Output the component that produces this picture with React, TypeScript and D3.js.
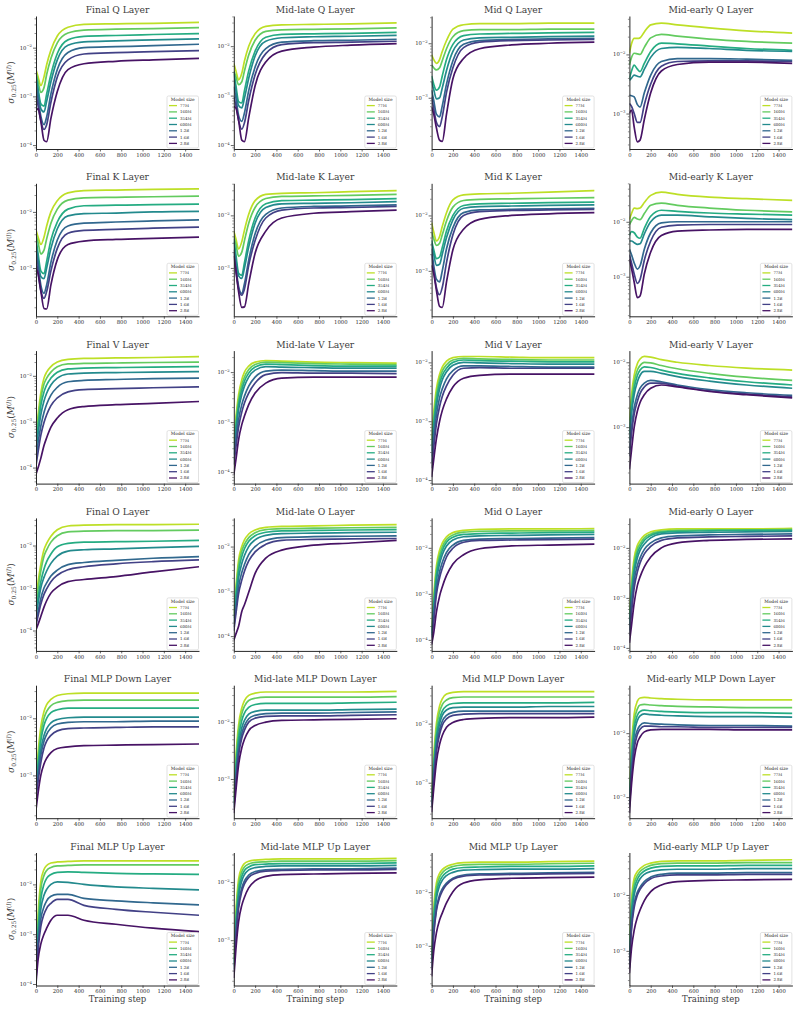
import React, { useEffect, useRef } from "react";
import * as d3 from "d3";

const steps = [0, 20, 45, 75, 100, 140, 200, 300, 450, 750, 1100, 1530];
const modelSizes = ["77M", "160M", "354M", "600M", "1.2B", "1.6B", "2.8B"];
const xTicks = [0, 200, 400, 600, 800, 1000, 1200, 1400];

// log10 of sigma_0.25(M) — one row per model size (same order as modelSizes)
const finalQ = [
  [-2.45, -2.6, -2.78, -2.6, -2.35, -2.05, -1.76, -1.58, -1.52, -1.51, -1.5, -1.48],
  [-2.5, -2.7, -2.92, -2.82, -2.55, -2.22, -1.9, -1.7, -1.64, -1.62, -1.61, -1.59],
  [-2.55, -2.85, -3.15, -3.2, -2.95, -2.55, -2.12, -1.84, -1.77, -1.75, -1.73, -1.71],
  [-2.6, -2.9, -3.25, -3.32, -3.1, -2.7, -2.25, -1.95, -1.88, -1.86, -1.84, -1.82],
  [-2.75, -3.05, -3.4, -3.58, -3.42, -2.95, -2.45, -2.1, -2.0, -1.98, -1.96, -1.93],
  [-2.95, -3.2, -3.5, -3.68, -3.58, -3.12, -2.6, -2.25, -2.13, -2.1, -2.08, -2.06],
  [-3.3, -3.25, -3.5, -3.9, -3.93, -3.45, -2.9, -2.45, -2.33, -2.28, -2.25, -2.22],
];
const midLateQ = [
  [-2.35, -2.5, -2.68, -2.55, -2.3, -2.0, -1.75, -1.6, -1.57, -1.56, -1.55, -1.53],
  [-2.5, -2.62, -2.78, -2.72, -2.5, -2.18, -1.88, -1.7, -1.67, -1.66, -1.65, -1.63],
  [-2.52, -2.8, -3.12, -3.15, -2.9, -2.5, -2.1, -1.82, -1.76, -1.75, -1.74, -1.72],
  [-2.55, -2.9, -3.2, -3.25, -3.05, -2.65, -2.2, -1.9, -1.83, -1.81, -1.8, -1.78],
  [-2.82, -3.05, -3.4, -3.52, -3.35, -2.9, -2.42, -2.05, -1.92, -1.89, -1.88, -1.86],
  [-3.02, -3.2, -3.5, -3.68, -3.55, -3.1, -2.58, -2.15, -1.97, -1.93, -1.92, -1.9],
  [-3.22, -3.25, -3.5, -3.9, -3.93, -3.45, -2.8, -2.32, -2.1, -2.02, -1.98, -1.95],
];
const midQ = [
  [-2.21, -2.3, -2.37, -2.3, -2.15, -1.95, -1.74, -1.66, -1.64, -1.64, -1.63, -1.63],
  [-2.4, -2.45, -2.49, -2.45, -2.32, -2.1, -1.88, -1.77, -1.75, -1.75, -1.74, -1.74],
  [-2.6, -2.75, -2.86, -2.8, -2.6, -2.3, -2.02, -1.86, -1.83, -1.82, -1.81, -1.8],
  [-2.7, -2.85, -3.02, -3.0, -2.82, -2.5, -2.15, -1.94, -1.9, -1.89, -1.88, -1.87],
  [-2.86, -3.05, -3.3, -3.35, -3.15, -2.75, -2.32, -2.02, -1.95, -1.93, -1.92, -1.91],
  [-2.98, -3.2, -3.45, -3.53, -3.35, -2.9, -2.45, -2.08, -1.98, -1.95, -1.94, -1.93],
  [-3.17, -3.3, -3.55, -3.78, -3.8, -3.3, -2.65, -2.28, -2.1, -2.03, -2.0, -1.98],
];
const midEarlyQ = [
  [-1.98, -1.82, -1.73, -1.73, -1.72, -1.62, -1.5, -1.47, -1.5, -1.55, -1.6, -1.64],
  [-2.18, -2.05, -1.98, -1.99, -2.0, -1.88, -1.72, -1.66, -1.69, -1.74, -1.78, -1.81],
  [-2.41, -2.28, -2.18, -2.25, -2.29, -2.15, -1.95, -1.81, -1.82, -1.86, -1.9, -1.93],
  [-2.44, -2.4, -2.35, -2.37, -2.38, -2.25, -2.05, -1.9, -1.88, -1.9, -1.93, -1.95],
  [-2.69, -2.7, -2.72, -2.85, -2.89, -2.65, -2.35, -2.12, -2.07, -2.07, -2.08, -2.1],
  [-2.83, -2.88, -3.0, -3.15, -3.15, -2.85, -2.5, -2.2, -2.12, -2.11, -2.11, -2.12],
  [-3.0, -2.94, -3.23, -3.48, -3.45, -3.1, -2.65, -2.28, -2.17, -2.13, -2.13, -2.15],
];
const finalK = [
  [-2.32, -2.45, -2.58, -2.45, -2.25, -2.0, -1.8, -1.66, -1.62, -1.61, -1.6, -1.59],
  [-2.4, -2.55, -2.75, -2.68, -2.48, -2.2, -1.95, -1.79, -1.75, -1.74, -1.73, -1.72],
  [-2.48, -2.75, -3.05, -3.1, -2.88, -2.5, -2.18, -1.95, -1.89, -1.88, -1.87, -1.86],
  [-2.56, -2.85, -3.15, -3.19, -3.0, -2.65, -2.3, -2.07, -2.03, -2.02, -2.0, -1.99],
  [-2.67, -2.95, -3.3, -3.45, -3.3, -2.9, -2.5, -2.25, -2.2, -2.18, -2.16, -2.14],
  [-2.84, -3.1, -3.4, -3.54, -3.42, -3.05, -2.65, -2.38, -2.33, -2.31, -2.29, -2.27],
  [-3.02, -3.1, -3.4, -3.72, -3.73, -3.3, -2.85, -2.58, -2.52, -2.49, -2.47, -2.45],
];
const midLateK = [
  [-2.3, -2.45, -2.64, -2.5, -2.28, -1.98, -1.72, -1.6, -1.58, -1.57, -1.55, -1.53],
  [-2.4, -2.55, -2.78, -2.7, -2.48, -2.15, -1.85, -1.68, -1.64, -1.63, -1.62, -1.6],
  [-2.45, -2.75, -3.1, -3.14, -2.9, -2.48, -2.05, -1.78, -1.72, -1.71, -1.7, -1.68],
  [-2.5, -2.85, -3.15, -3.2, -3.0, -2.6, -2.15, -1.85, -1.78, -1.77, -1.76, -1.74],
  [-2.65, -3.0, -3.35, -3.49, -3.3, -2.85, -2.35, -1.98, -1.86, -1.83, -1.82, -1.8],
  [-2.7, -3.05, -3.4, -3.52, -3.4, -2.95, -2.48, -2.05, -1.9, -1.86, -1.85, -1.83],
  [-2.77, -3.05, -3.45, -3.75, -3.74, -3.3, -2.72, -2.3, -2.05, -1.96, -1.93, -1.9],
];
const midK = [
  [-2.13, -2.3, -2.46, -2.38, -2.2, -1.95, -1.72, -1.63, -1.61, -1.6, -1.58, -1.55],
  [-2.3, -2.42, -2.54, -2.5, -2.35, -2.1, -1.85, -1.73, -1.71, -1.7, -1.69, -1.68],
  [-2.45, -2.62, -2.78, -2.75, -2.58, -2.28, -2.0, -1.82, -1.79, -1.78, -1.77, -1.76],
  [-2.5, -2.7, -2.9, -2.88, -2.7, -2.4, -2.08, -1.87, -1.84, -1.83, -1.82, -1.81],
  [-2.6, -2.9, -3.15, -3.2, -3.0, -2.6, -2.22, -1.95, -1.9, -1.89, -1.88, -1.87],
  [-2.7, -3.0, -3.3, -3.43, -3.3, -2.85, -2.35, -2.0, -1.93, -1.91, -1.9, -1.89],
  [-2.9, -3.05, -3.35, -3.64, -3.66, -3.2, -2.62, -2.25, -2.07, -2.0, -1.97, -1.95],
];
const midEarlyK = [
  [-1.96, -1.85, -1.75, -1.76, -1.75, -1.65, -1.52, -1.46, -1.5, -1.55, -1.58, -1.61],
  [-2.05, -1.98, -1.92, -1.95, -1.96, -1.85, -1.7, -1.66, -1.7, -1.75, -1.79, -1.82],
  [-2.25, -2.18, -2.2, -2.28, -2.3, -2.12, -1.9, -1.79, -1.81, -1.84, -1.86, -1.88],
  [-2.35, -2.35, -2.38, -2.41, -2.4, -2.22, -2.0, -1.88, -1.88, -1.91, -1.94, -1.96],
  [-2.5, -2.6, -2.75, -2.86, -2.8, -2.5, -2.2, -2.02, -2.0, -2.0, -2.0, -2.0],
  [-2.6, -2.75, -2.95, -3.12, -3.05, -2.7, -2.35, -2.1, -2.06, -2.05, -2.05, -2.05],
  [-2.68, -2.85, -3.1, -3.38, -3.35, -2.95, -2.55, -2.25, -2.17, -2.15, -2.14, -2.14],
];
const finalV = [
  [-3.32, -2.85, -2.38, -2.05, -1.92, -1.8, -1.7, -1.64, -1.62, -1.61, -1.6, -1.58],
  [-3.38, -2.95, -2.5, -2.18, -2.05, -1.92, -1.8, -1.74, -1.73, -1.72, -1.71, -1.7],
  [-3.45, -3.1, -2.65, -2.35, -2.2, -2.05, -1.92, -1.85, -1.83, -1.82, -1.81, -1.8],
  [-3.6, -3.25, -2.85, -2.55, -2.38, -2.2, -2.05, -1.96, -1.94, -1.93, -1.92, -1.91],
  [-3.8, -3.45, -3.1, -2.8, -2.62, -2.42, -2.25, -2.13, -2.1, -2.08, -2.06, -2.05],
  [-3.95, -3.65, -3.3, -3.02, -2.85, -2.65, -2.48, -2.35, -2.3, -2.28, -2.26, -2.24],
  [-4.15, -4.0, -3.8, -3.52, -3.35, -3.12, -2.92, -2.74, -2.67, -2.63, -2.6, -2.56],
];
const midLateV = [
  [-3.35, -2.9, -2.45, -2.15, -2.0, -1.88, -1.8, -1.77, -1.78, -1.8, -1.81, -1.82],
  [-3.45, -3.0, -2.55, -2.25, -2.1, -1.95, -1.85, -1.8, -1.81, -1.83, -1.84, -1.85],
  [-3.55, -3.1, -2.65, -2.35, -2.18, -2.02, -1.9, -1.84, -1.85, -1.87, -1.88, -1.88],
  [-3.65, -3.2, -2.75, -2.45, -2.28, -2.1, -1.96, -1.89, -1.9, -1.91, -1.92, -1.92],
  [-3.75, -3.35, -2.95, -2.65, -2.48, -2.28, -2.1, -1.98, -1.96, -1.97, -1.98, -1.98],
  [-3.85, -3.5, -3.1, -2.8, -2.62, -2.42, -2.22, -2.05, -2.01, -2.02, -2.02, -2.03],
  [-4.05, -3.75, -3.35, -3.05, -2.88, -2.65, -2.42, -2.22, -2.12, -2.1, -2.1, -2.1],
];
const midV = [
  [-3.3, -2.85, -2.45, -2.2, -2.08, -1.98, -1.92, -1.9, -1.9, -1.91, -1.92, -1.92],
  [-3.4, -2.95, -2.55, -2.28, -2.15, -2.04, -1.96, -1.93, -1.94, -1.95, -1.96, -1.96],
  [-3.5, -3.05, -2.65, -2.36, -2.22, -2.1, -2.0, -1.96, -1.97, -1.98, -1.99, -1.99],
  [-3.6, -3.15, -2.75, -2.45, -2.3, -2.16, -2.05, -2.0, -2.01, -2.02, -2.03, -2.03],
  [-3.7, -3.3, -2.9, -2.6, -2.45, -2.28, -2.14, -2.06, -2.06, -2.07, -2.08, -2.08],
  [-3.8, -3.45, -3.05, -2.75, -2.58, -2.4, -2.22, -2.1, -2.09, -2.1, -2.1, -2.1],
  [-3.95, -3.65, -3.3, -3.0, -2.82, -2.62, -2.42, -2.27, -2.22, -2.2, -2.2, -2.2],
];
const midEarlyV = [
  [-2.9, -2.5, -2.2, -2.02, -1.95, -1.91, -1.92, -1.96, -2.0, -2.05, -2.09, -2.12],
  [-3.0, -2.6, -2.3, -2.12, -2.05, -2.0, -2.01, -2.05, -2.1, -2.17, -2.23, -2.28],
  [-3.1, -2.7, -2.4, -2.2, -2.12, -2.07, -2.08, -2.12, -2.17, -2.24, -2.3, -2.35],
  [-3.2, -2.8, -2.5, -2.3, -2.2, -2.14, -2.14, -2.17, -2.22, -2.29, -2.35, -2.4],
  [-3.35, -3.0, -2.7, -2.5, -2.4, -2.32, -2.28, -2.3, -2.35, -2.42, -2.47, -2.51],
  [-3.45, -3.1, -2.8, -2.6, -2.48, -2.38, -2.32, -2.32, -2.37, -2.44, -2.49, -2.53],
  [-3.65, -3.35, -3.0, -2.75, -2.62, -2.5, -2.4, -2.35, -2.38, -2.45, -2.5, -2.55],
];
const finalO = [
  [-3.28, -2.85, -2.45, -2.1, -1.95, -1.78, -1.63, -1.54, -1.52, -1.51, -1.51, -1.5],
  [-3.42, -3.0, -2.6, -2.25, -2.1, -1.92, -1.77, -1.68, -1.66, -1.65, -1.65, -1.64],
  [-3.55, -3.2, -2.85, -2.55, -2.38, -2.2, -2.03, -1.95, -1.92, -1.91, -1.9, -1.88],
  [-3.65, -3.35, -3.0, -2.75, -2.6, -2.42, -2.25, -2.13, -2.1, -2.08, -2.05, -2.02],
  [-3.8, -3.55, -3.25, -3.0, -2.88, -2.72, -2.58, -2.45, -2.4, -2.35, -2.3, -2.26],
  [-3.88, -3.65, -3.38, -3.15, -3.02, -2.85, -2.7, -2.57, -2.5, -2.43, -2.38, -2.34],
  [-3.98, -3.85, -3.67, -3.45, -3.3, -3.12, -2.98, -2.85, -2.8, -2.73, -2.62, -2.5],
];
const midLateO = [
  [-3.49, -2.9, -2.3, -2.0, -1.85, -1.72, -1.63, -1.57, -1.55, -1.54, -1.52, -1.51],
  [-3.55, -3.0, -2.42, -2.1, -1.95, -1.8, -1.69, -1.62, -1.6, -1.59, -1.58, -1.57],
  [-3.6, -3.1, -2.55, -2.22, -2.05, -1.88, -1.76, -1.68, -1.65, -1.64, -1.63, -1.62],
  [-3.7, -3.25, -2.7, -2.38, -2.2, -2.0, -1.85, -1.75, -1.71, -1.7, -1.69, -1.68],
  [-3.8, -3.4, -2.9, -2.58, -2.4, -2.18, -2.0, -1.86, -1.8, -1.78, -1.77, -1.76],
  [-3.88, -3.5, -3.05, -2.75, -2.55, -2.32, -2.12, -1.95, -1.86, -1.84, -1.83, -1.82],
  [-4.09, -3.95, -3.78, -3.45, -3.3, -3.02, -2.6, -2.26, -2.08, -1.97, -1.92, -1.86],
];
const midO = [
  [-3.75, -3.05, -2.4, -2.05, -1.9, -1.76, -1.67, -1.62, -1.6, -1.59, -1.59, -1.58],
  [-3.8, -3.15, -2.5, -2.15, -1.98, -1.82, -1.72, -1.66, -1.64, -1.63, -1.63, -1.62],
  [-3.85, -3.25, -2.6, -2.25, -2.06, -1.88, -1.77, -1.71, -1.69, -1.68, -1.67, -1.66],
  [-3.9, -3.35, -2.72, -2.35, -2.15, -1.96, -1.83, -1.76, -1.74, -1.73, -1.72, -1.71],
  [-3.95, -3.5, -2.9, -2.52, -2.32, -2.1, -1.94, -1.84, -1.81, -1.8, -1.79, -1.78],
  [-4.0, -3.6, -3.02, -2.65, -2.45, -2.2, -2.01, -1.88, -1.84, -1.83, -1.82, -1.81],
  [-4.1, -3.85, -3.4, -3.05, -2.85, -2.6, -2.35, -2.15, -2.02, -1.96, -1.94, -1.92],
];
const midEarlyO = [
  [-3.3, -2.7, -2.2, -1.95, -1.85, -1.75, -1.68, -1.64, -1.62, -1.62, -1.62, -1.61],
  [-3.4, -2.8, -2.3, -2.02, -1.92, -1.8, -1.72, -1.67, -1.65, -1.64, -1.64, -1.63],
  [-3.45, -2.9, -2.4, -2.1, -1.98, -1.85, -1.75, -1.69, -1.67, -1.66, -1.65, -1.65],
  [-3.55, -3.0, -2.5, -2.2, -2.05, -1.92, -1.8, -1.72, -1.7, -1.69, -1.68, -1.67],
  [-3.65, -3.15, -2.65, -2.35, -2.2, -2.03, -1.9, -1.8, -1.76, -1.74, -1.73, -1.72],
  [-3.75, -3.3, -2.8, -2.48, -2.3, -2.12, -1.97, -1.85, -1.8, -1.78, -1.77, -1.76],
  [-3.9, -3.55, -3.1, -2.75, -2.58, -2.38, -2.18, -2.0, -1.9, -1.85, -1.83, -1.82],
];
const finalMlpDown = [
  [-3.1, -2.6, -2.15, -1.88, -1.76, -1.67, -1.6, -1.57, -1.56, -1.56, -1.56, -1.56],
  [-3.15, -2.7, -2.28, -2.0, -1.88, -1.78, -1.72, -1.69, -1.68, -1.68, -1.68, -1.68],
  [-3.2, -2.8, -2.4, -2.12, -2.0, -1.9, -1.85, -1.82, -1.82, -1.82, -1.82, -1.82],
  [-3.25, -2.9, -2.55, -2.3, -2.18, -2.08, -2.02, -1.99, -1.98, -1.98, -1.98, -1.98],
  [-3.3, -3.0, -2.65, -2.4, -2.28, -2.17, -2.1, -2.07, -2.06, -2.06, -2.05, -2.05],
  [-3.4, -3.1, -2.78, -2.52, -2.4, -2.3, -2.22, -2.18, -2.17, -2.16, -2.15, -2.15],
  [-3.6, -3.3, -3.0, -2.8, -2.7, -2.6, -2.53, -2.5, -2.48, -2.47, -2.46, -2.45],
];
const midLateMlpDown = [
  [-3.3, -2.6, -2.05, -1.75, -1.62, -1.53, -1.49, -1.47, -1.47, -1.47, -1.47, -1.46],
  [-3.35, -2.7, -2.15, -1.85, -1.72, -1.62, -1.58, -1.56, -1.56, -1.56, -1.56, -1.55],
  [-3.4, -2.8, -2.28, -1.97, -1.84, -1.74, -1.69, -1.67, -1.67, -1.67, -1.66, -1.65],
  [-3.45, -2.9, -2.4, -2.1, -1.97, -1.86, -1.81, -1.79, -1.79, -1.79, -1.78, -1.77],
  [-3.5, -3.0, -2.5, -2.2, -2.06, -1.94, -1.88, -1.85, -1.84, -1.84, -1.83, -1.82],
  [-3.52, -3.05, -2.58, -2.28, -2.14, -2.0, -1.93, -1.9, -1.89, -1.89, -1.88, -1.87],
  [-3.6, -3.2, -2.75, -2.45, -2.3, -2.15, -2.06, -2.0, -1.97, -1.96, -1.95, -1.94],
];
const midMlpDown = [
  [-3.2, -2.55, -2.0, -1.7, -1.58, -1.5, -1.47, -1.46, -1.46, -1.46, -1.46, -1.46],
  [-3.25, -2.65, -2.1, -1.8, -1.68, -1.6, -1.56, -1.55, -1.55, -1.55, -1.55, -1.55],
  [-3.3, -2.75, -2.22, -1.92, -1.79, -1.7, -1.66, -1.65, -1.65, -1.65, -1.65, -1.64],
  [-3.35, -2.8, -2.3, -2.0, -1.86, -1.77, -1.73, -1.72, -1.72, -1.72, -1.71, -1.71],
  [-3.4, -2.9, -2.4, -2.1, -1.96, -1.86, -1.81, -1.79, -1.79, -1.79, -1.79, -1.79],
  [-3.42, -2.95, -2.48, -2.18, -2.03, -1.92, -1.86, -1.84, -1.83, -1.83, -1.83, -1.83],
  [-3.5, -3.1, -2.65, -2.35, -2.2, -2.06, -1.98, -1.93, -1.91, -1.9, -1.9, -1.89],
];
const midEarlyMlpDown = [
  [-2.9, -2.2, -1.7, -1.5, -1.45, -1.44, -1.45, -1.46, -1.47, -1.48, -1.48, -1.48],
  [-2.95, -2.3, -1.82, -1.62, -1.56, -1.55, -1.56, -1.57, -1.58, -1.59, -1.6, -1.6],
  [-3.0, -2.4, -1.92, -1.72, -1.66, -1.64, -1.65, -1.66, -1.67, -1.68, -1.68, -1.69],
  [-3.05, -2.5, -2.02, -1.8, -1.73, -1.7, -1.71, -1.72, -1.73, -1.74, -1.74, -1.75],
  [-3.1, -2.6, -2.15, -1.95, -1.88, -1.84, -1.85, -1.86, -1.87, -1.88, -1.88, -1.89],
  [-3.15, -2.68, -2.25, -2.02, -1.94, -1.89, -1.89, -1.9, -1.9, -1.91, -1.91, -1.91],
  [-3.25, -2.8, -2.4, -2.15, -2.06, -1.98, -1.95, -1.94, -1.94, -1.94, -1.95, -1.95],
];
const finalMlpUp = [
  [-3.65, -2.6, -1.95, -1.7, -1.62, -1.57, -1.55, -1.54, -1.53, -1.53, -1.53, -1.53],
  [-3.7, -2.75, -2.1, -1.82, -1.72, -1.66, -1.63, -1.62, -1.61, -1.61, -1.61, -1.61],
  [-3.75, -2.9, -2.3, -2.0, -1.88, -1.8, -1.76, -1.75, -1.76, -1.78, -1.79, -1.8],
  [-3.8, -3.05, -2.5, -2.22, -2.1, -2.0, -1.95, -1.96, -2.0, -2.05, -2.08, -2.11],
  [-3.85, -3.2, -2.7, -2.45, -2.33, -2.24, -2.2, -2.2, -2.28, -2.33, -2.37, -2.41],
  [-3.9, -3.3, -2.85, -2.6, -2.48, -2.38, -2.3, -2.3, -2.42, -2.5, -2.56, -2.62],
  [-3.99, -3.5, -3.2, -3.0, -2.88, -2.72, -2.62, -2.62, -2.72, -2.8, -2.88, -2.95],
];
const midLateMlpUp = [
  [-3.3, -2.5, -1.95, -1.75, -1.68, -1.64, -1.62, -1.61, -1.6, -1.6, -1.6, -1.59],
  [-3.35, -2.6, -2.05, -1.82, -1.74, -1.69, -1.66, -1.65, -1.64, -1.64, -1.64, -1.63],
  [-3.4, -2.7, -2.15, -1.9, -1.8, -1.74, -1.7, -1.69, -1.68, -1.68, -1.68, -1.67],
  [-3.45, -2.8, -2.25, -1.98, -1.87, -1.79, -1.75, -1.73, -1.72, -1.72, -1.72, -1.71],
  [-3.5, -2.9, -2.38, -2.1, -1.98, -1.88, -1.82, -1.79, -1.78, -1.77, -1.77, -1.76],
  [-3.55, -2.95, -2.45, -2.16, -2.03, -1.92, -1.85, -1.81, -1.8, -1.79, -1.79, -1.78],
  [-3.65, -3.15, -2.68, -2.4, -2.26, -2.1, -1.98, -1.9, -1.87, -1.86, -1.85, -1.84],
];
const midMlpUp = [
  [-3.14, -2.3, -1.83, -1.65, -1.58, -1.52, -1.48, -1.45, -1.44, -1.44, -1.43, -1.42],
  [-3.2, -2.4, -1.92, -1.72, -1.64, -1.57, -1.52, -1.49, -1.48, -1.48, -1.47, -1.46],
  [-3.25, -2.5, -2.02, -1.8, -1.71, -1.63, -1.57, -1.54, -1.53, -1.52, -1.52, -1.51],
  [-3.3, -2.6, -2.12, -1.88, -1.78, -1.69, -1.63, -1.59, -1.58, -1.57, -1.57, -1.56],
  [-3.4, -2.75, -2.3, -2.05, -1.94, -1.83, -1.74, -1.68, -1.66, -1.65, -1.64, -1.63],
  [-3.45, -2.8, -2.35, -2.1, -1.98, -1.86, -1.76, -1.7, -1.68, -1.67, -1.66, -1.65],
  [-3.57, -3.1, -2.76, -2.52, -2.39, -2.2, -1.99, -1.83, -1.77, -1.74, -1.73, -1.72],
];
const midEarlyMlpUp = [
  [-2.98, -2.1, -1.7, -1.58, -1.53, -1.47, -1.43, -1.4, -1.39, -1.39, -1.38, -1.37],
  [-3.05, -2.2, -1.8, -1.65, -1.58, -1.52, -1.47, -1.44, -1.43, -1.43, -1.42, -1.42],
  [-3.1, -2.3, -1.9, -1.72, -1.64, -1.57, -1.52, -1.49, -1.48, -1.48, -1.47, -1.47],
  [-3.15, -2.4, -2.0, -1.8, -1.71, -1.63, -1.58, -1.55, -1.54, -1.54, -1.53, -1.53],
  [-3.25, -2.55, -2.15, -1.95, -1.86, -1.76, -1.68, -1.63, -1.61, -1.61, -1.6, -1.6],
  [-3.3, -2.62, -2.22, -2.0, -1.9, -1.8, -1.71, -1.66, -1.64, -1.64, -1.63, -1.63],
  [-3.4, -2.95, -2.63, -2.4, -2.27, -2.1, -1.94, -1.82, -1.76, -1.74, -1.73, -1.72],
];

const panelTitles = [
  "Final Q Layer", "Mid-late Q Layer", "Mid Q Layer", "Mid-early Q Layer",
  "Final K Layer", "Mid-late K Layer", "Mid K Layer", "Mid-early K Layer",
  "Final V Layer", "Mid-late V Layer", "Mid V Layer", "Mid-early V Layer",
  "Final O Layer", "Mid-late O Layer", "Mid O Layer", "Mid-early O Layer",
  "Final MLP Down Layer", "Mid-late MLP Down Layer", "Mid MLP Down Layer", "Mid-early MLP Down Layer",
  "Final MLP Up Layer", "Mid-late MLP Up Layer", "Mid MLP Up Layer", "Mid-early MLP Up Layer",
];
// y limits as log10 exponents [bottom, top]
const yLimits = [
  [-4.08, -1.35], [-4.08, -1.39], [-3.94, -1.5], [-3.6, -1.35],
  [-3.86, -1.49], [-3.92, -1.39], [-3.82, -1.42], [-3.72, -1.3],
  [-4.35, -1.45], [-4.23, -1.57], [-4.06, -1.8], [-3.87, -1.82],
  [-4.48, -1.35], [-4.33, -1.36], [-4.24, -1.35], [-4.06, -1.4],
  [-3.75, -1.42], [-3.69, -1.35], [-3.6, -1.35], [-3.33, -1.25],
  [-4.03, -1.36], [-3.78, -1.49], [-3.74, -1.26], [-3.62, -1.24],
];
const panelData = [
  finalQ, midLateQ, midQ, midEarlyQ,
  finalK, midLateK, midK, midEarlyK,
  finalV, midLateV, midV, midEarlyV,
  finalO, midLateO, midO, midEarlyO,
  finalMlpDown, midLateMlpDown, midMlpDown, midEarlyMlpDown,
  finalMlpUp, midLateMlpUp, midMlpUp, midEarlyMlpUp,
];

const W = 799;
const H = 1010;
const FONT = "'DejaVu Serif', serif";
const INK = "#262626";
const SOFT = "#3d3d3d";
const colX = 36;
const colStep = 197.8;
const plotW = 163;
const rowY = 16;
const rowStep = 167.3;
const plotH = 133;
const colors = modelSizes.map((_, i) => d3.interpolateViridis(0.9 - (i * 0.85) / 6));

const App = () => {
  const svgRef = useRef<SVGSVGElement>(null);

  useEffect(() => {
    const svg = d3.select(svgRef.current);
    svg.selectAll("*").remove();
    svg.append("rect").attr("width", W).attr("height", H).attr("fill", "white");

    panelData.forEach((data, k) => {
      const r = Math.floor(k / 4);
      const c = k % 4;
      const x0 = colX + c * colStep;
      const y0 = rowY + r * rowStep;
      const [lo, hi] = yLimits[k];

      const x = d3.scaleLinear().domain([0, 1530]).range([x0, x0 + plotW]);
      const y = d3.scaleLog().domain([10 ** lo, 10 ** hi]).range([y0 + plotH, y0]);

      const g = svg.append("g")
        .attr("font-family", FONT)
        .attr("font-weight", "normal");

      const clipId = `clip-${k}`;
      g.append("clipPath").attr("id", clipId)
        .append("rect").attr("x", x0).attr("y", y0).attr("width", plotW).attr("height", plotH);

      const line = d3.line<number>()
        .x((_, i) => x(steps[i]))
        .y(v => y(10 ** v))
        .curve(d3.curveMonotoneX);

      g.append("g")
        .attr("clip-path", `url(#${clipId})`)
        .attr("fill", "none")
        .attr("stroke-width", 1.7)
        .attr("stroke-linejoin", "round")
        .selectAll("path")
        .data(data)
        .join("path")
        .attr("stroke", (_, i) => colors[i])
        .attr("d", line);

      // x axis
      const xAxis = g.append("g")
        .attr("transform", `translate(0,${y0 + plotH})`)
        .call(d3.axisBottom(x).tickValues(xTicks).tickFormat(d3.format("d"))
          .tickSize(2.5).tickSizeOuter(0).tickPadding(1.5));
      xAxis.selectAll("text")
        .attr("font-size", 5.3)
        .attr("font-family", FONT)
        .attr("font-weight", "normal")
        .attr("fill", INK);

      // y axis: decades + log minor ticks
      const decades = d3.range(Math.ceil(lo), Math.floor(hi) + 1);
      const minors: number[] = [];
      d3.range(Math.floor(lo), Math.ceil(hi)).forEach(e => {
        for (let m = 2; m <= 9; m++) {
          const v = Math.log10(m) + e;
          if (v >= lo && v <= hi) minors.push(10 ** v);
        }
      });
      g.append("g")
        .attr("transform", `translate(${x0},0)`)
        .call(d3.axisLeft(y).tickValues(minors).tickSize(1.5).tickFormat(() => "").tickSizeOuter(0))
        .call(a => a.select(".domain").remove())
        .call(a => a.selectAll(".tick line").attr("stroke", INK).attr("stroke-width", 0.5));
      const yAxis = g.append("g")
        .attr("transform", `translate(${x0},0)`)
        .call(d3.axisLeft(y).tickValues(decades.map(e => 10 ** e)).tickSize(3).tickFormat(() => "").tickSizeOuter(0));
      [xAxis, yAxis].forEach(a => {
        a.select(".domain").attr("stroke", INK).attr("stroke-width", 1);
        a.selectAll(".tick line").attr("stroke", INK).attr("stroke-width", 0.7);
      });

      decades.forEach(e => {
        const t = g.append("text")
          .attr("x", x0 - 4)
          .attr("y", y(10 ** e) + 2)
          .attr("text-anchor", "end")
          .attr("fill", INK);
        t.append("tspan").attr("font-size", 5.3).text("10");
        t.append("tspan").attr("font-size", 3.8).attr("dy", -2.3).text(`\u2212${-e}`);
      });

      // title
      g.append("text")
        .attr("x", x0 + plotW / 2)
        .attr("y", y0 - 3)
        .attr("text-anchor", "middle")
        .attr("font-size", 9.2)
        .attr("fill", SOFT)
        .text(panelTitles[k]);

      // y label
      if (c === 0) {
        const t = g.append("text")
          .attr("transform", `translate(14,${y0 + plotH / 2}) rotate(-90)`)
          .attr("text-anchor", "middle")
          .attr("font-size", 9)
          .attr("fill", SOFT);
        t.append("tspan").attr("font-style", "italic").text("σ");
        t.append("tspan").attr("font-size", 6).attr("dy", 2).text("0.25");
        t.append("tspan").attr("dy", -2).text("(");
        t.append("tspan").attr("font-style", "italic").text("M");
        t.append("tspan").attr("font-size", 6).attr("dy", -3.5).text("(");
        t.append("tspan").attr("font-size", 6).attr("font-style", "italic").text("l");
        t.append("tspan").attr("font-size", 6).text(")");
        t.append("tspan").attr("dy", 3.5).text(")");
      }

      // x label
      if (r === 5) {
        g.append("text")
          .attr("x", x0 + plotW / 2)
          .attr("y", y0 + plotH + 16.5)
          .attr("text-anchor", "middle")
          .attr("font-size", 8.5)
          .attr("fill", SOFT)
          .text("Training step");
      }

      // legend
      const lw = 31.5;
      const lh = 52;
      const lx = x0 + plotW - lw - 0.5;
      const ly = y0 + plotH - lh - 1;
      const leg = g.append("g");
      leg.append("rect")
        .attr("x", lx).attr("y", ly).attr("width", lw).attr("height", lh)
        .attr("rx", 1.5)
        .attr("fill", "white").attr("fill-opacity", 0.85)
        .attr("stroke", "#cfcfcf").attr("stroke-width", 0.6);
      leg.append("text")
        .attr("x", lx + lw / 2).attr("y", ly + 4.8)
        .attr("text-anchor", "middle")
        .attr("font-size", 4.4)
        .attr("fill", INK)
        .text("Model size");
      modelSizes.forEach((name, i) => {
        const yy = ly + 11 + i * 6.3;
        leg.append("line")
          .attr("x1", lx + 2).attr("x2", lx + 10)
          .attr("y1", yy - 1.4).attr("y2", yy - 1.4)
          .attr("stroke", colors[i]).attr("stroke-width", 1.3);
        leg.append("text")
          .attr("x", lx + 13).attr("y", yy)
          .attr("font-size", 3.9)
          .attr("fill", INK)
          .text(name);
      });
    });
  }, []);

  return (
    <svg
      ref={svgRef}
      width={W}
      height={H}
      viewBox={`0 0 ${W} ${H}`}
      style={{ position: "absolute", left: 0, top: 0 }}
    />
  );
};

export default App;
